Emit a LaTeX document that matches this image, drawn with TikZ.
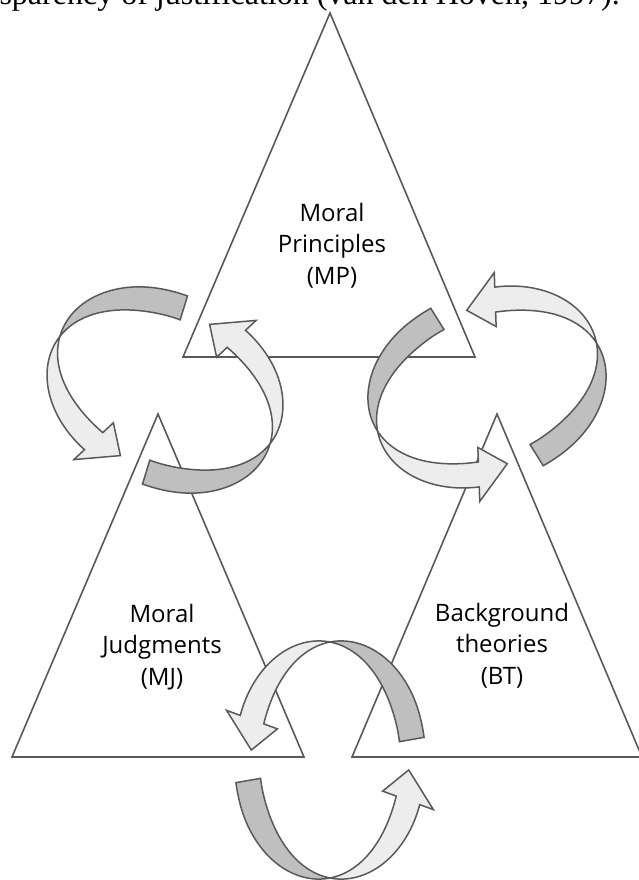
\documentclass[tikz,border=0pt]{standalone}
\usepackage{fontspec}
\setmainfont{Open Sans}
\newfontfamily\capfont{Liberation Serif}

% one arrow of a loop: dark back part up to the twist, light front part with head
\newcommand{\twistarrow}[1]{%
  \pgfmathsetmacro{\tTail}{#1-80}%
  \pgfmathsetmacro{\tHead}{#1+70}%
  \pgfmathsetmacro{\tTip}{#1+85}%
  \filldraw[darkside] plot[domain=\tTail:#1, samples=40] ({ex(\x,bw(\x-#1))},{ey(\x,bw(\x-#1))})
    -- plot[domain=#1:\tTail, samples=40] ({ex(\x,-bw(\x-#1))},{ey(\x,-bw(\x-#1))}) -- cycle;
  \filldraw[lightside] plot[domain=#1:\tHead, samples=40] ({ex(\x,bw(\x-#1))},{ey(\x,bw(\x-#1))})
    -- ({ex(\tHead,27)},{ey(\tHead,27)})
    -- ({ex(\tTip,-4)},{ey(\tTip,-4)})
    -- ({ex(\tHead,-27)},{ey(\tHead,-27)})
    -- plot[domain=\tHead:#1, samples=40] ({ex(\x,-bw(\x-#1))},{ey(\x,-bw(\x-#1))}) -- cycle;
}

\begin{document}
\begin{tikzpicture}[x=1pt, y=1pt,
  tri/.style={draw=black!65, line width=1.6pt, fill=white},
  darkside/.style={fill=black!25, draw=black!65, line width=1.5pt},
  lightside/.style={fill=black!7, draw=black!65, line width=1.5pt},
  lbl/.style={align=center, inner sep=0pt, anchor=north, font=\fontsize{24}{31.5}\selectfont},
  declare function={bw(\x)=12.5*sin(min(90,1.3*abs(\x)));
    ex(\x,\y)=(118+\y)*cos(\x); ey(\x,\y)=(83+\y)*sin(\x);}]
\useasboundingbox (0,0) rectangle (638,-880);

\node[anchor=base east, inner sep=0pt, font=\capfont\fontsize{32}{38}\selectfont] (cap)
  at (620,-5) {sparency of justification (van den Hoven, 1997).};

% triangles
\coordinate (mpTop) at (330,-13);
\coordinate (mpLeft) at (183,-357);
\coordinate (mpRight) at (475,-357);
\coordinate (mjTop) at (158,-414);
\coordinate (mjLeft) at (12,-757);
\coordinate (mjRight) at (304,-757);
\coordinate (btTop) at (497,-414);
\coordinate (btLeft) at (352,-757);
\coordinate (btRight) at (642,-757);
\draw[tri] (mpTop) -- (mpLeft) -- (mpRight) -- cycle;
\draw[tri] (mjTop) -- (mjLeft) -- (mjRight) -- cycle;
\draw[tri] (btTop) -- (btLeft) -- (btRight) -- cycle;

\node[lbl] (mp) at (332,-203) {Moral\\Principles\\(MP)};
\node[lbl] (mj) at (162,-604) {Moral\\Judgments\\(MJ)};
\node[lbl] (bt) at (502,-603) {Background\\theories\\(BT)};

% loops
\begin{scope}[shift={(165,-390)}, rotate=153]
  \twistarrow{0}
  \twistarrow{180}
\end{scope}
\begin{scope}[shift={(487,-387)}, rotate=22]
  \twistarrow{0}
  \twistarrow{180}
\end{scope}
\begin{scope}[shift={(330,-760)}, rotate=90]
  \twistarrow{0}
  \twistarrow{180}
\end{scope}
\end{tikzpicture}
\end{document}
